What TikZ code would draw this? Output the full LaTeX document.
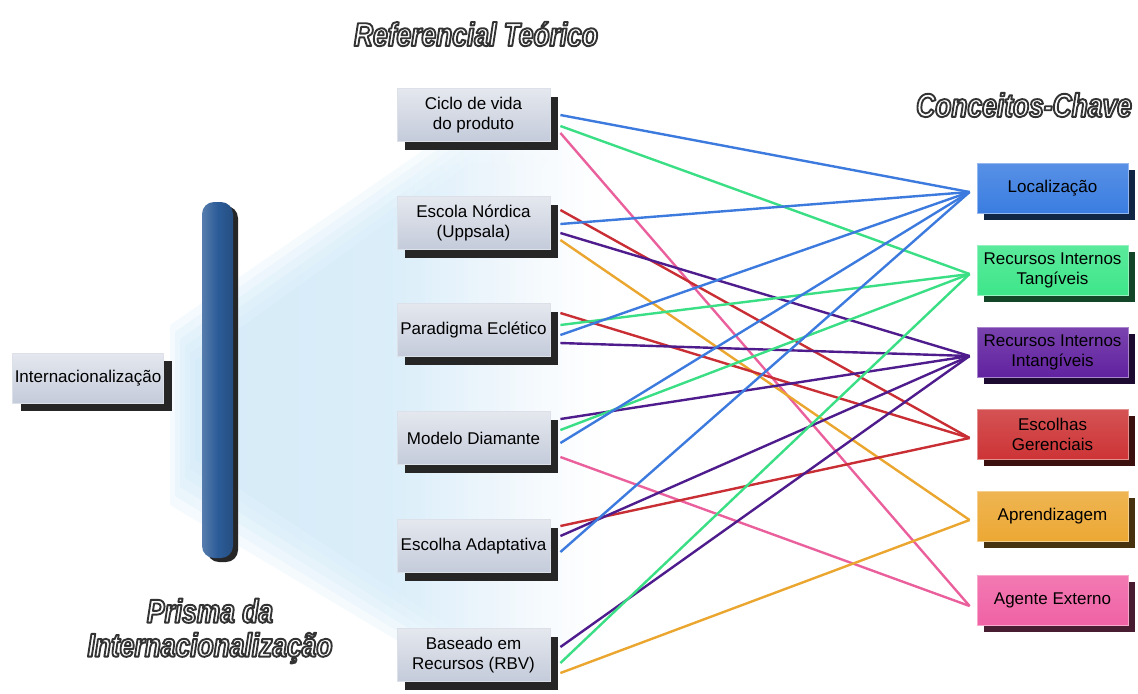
\documentclass[tikz,border=0pt]{standalone}
\usepackage{fontspec}
\setmainfont{Liberation Sans}
\newfontfamily\titlefont[FakeStretch=0.8]{Liberation Sans}
\usepackage{tikz}
\usetikzlibrary{shadows}

\definecolor{refface}{RGB}{196,203,218}
\definecolor{glowblue}{RGB}{200,229,246}
\definecolor{barblue}{RGB}{44,92,152}
\definecolor{locblue}{RGB}{58,125,225}
\definecolor{tanggreen}{RGB}{62,230,138}
\definecolor{intpurple}{RGB}{98,34,160}
\definecolor{escred}{RGB}{205,52,54}
\definecolor{aprorange}{RGB}{236,168,52}
\definecolor{agpink}{RGB}{240,98,165}
\definecolor{lblue}{RGB}{60,122,222}
\definecolor{lgreen}{RGB}{58,222,132}
\definecolor{lpurple}{RGB}{78,28,140}
\definecolor{lred}{RGB}{200,46,52}
\definecolor{lorange}{RGB}{234,166,46}
\definecolor{lpink}{RGB}{234,96,156}

% white letters with a dark rim (fill + stroke render mode)
\newcommand{\titletext}[1]{\textcolor{white}{\special{pdf:literal direct 2 Tr 0.95 w 1 j 0.2 G}#1\special{pdf:literal direct 0 Tr 0.4 w 0 j}}}

\begin{document}
\begin{tikzpicture}[
  x=0.5pt, y=-0.5pt,
  refbox/.style={minimum width=76.5pt, minimum height=26.5pt, inner sep=1pt, align=center,
               font=\fontsize{8.5}{10}\selectfont, top color=refface!45!white, bottom color=refface,
               draw=refface!60!white,
               drop shadow={shadow xshift=4pt, shadow yshift=-4pt, fill=black!85, opacity=1}},
  keybox/.style={minimum width=75.5pt, minimum height=25pt, inner sep=1pt, align=center,
               font=\fontsize{8.5}{10}\selectfont, top color=#1!85!white, bottom color=#1,
               draw=#1!55!white,
               drop shadow={shadow xshift=3.5pt, shadow yshift=-3.5pt, fill=#1!30!black, opacity=1}},
  link/.style={line width=1.2pt},
  glow/.style={left color=glowblue, right color=white, middle color=glowblue!90, opacity=.2},
  titlelabel/.style={font=\titlefont\fontsize{16.5}{17}\selectfont\bfseries\itshape, align=center}
]
\useasboundingbox (0,0) rectangle (1138,693);

% light fan behind the prism
\foreach \k in {0,...,5}
  \shade[glow] (170+5*\k,325+7*\k) -- (470,118+9*\k) -- (615-9*\k,118+9*\k) -- (615-9*\k,672-9*\k)
               -- (450,672-9*\k) -- (170+5*\k,505-9*\k) -- cycle;

% titles
\node[titlelabel] (reftitle) at (476,34) {\titletext{Referencial Teórico}};
\node[titlelabel] (keytitle) at (1024,105) {\titletext{Conceitos-Chave}};
\node[titlelabel] (prismtitle) at (210,631) {\titletext{Prisma da}\\\titletext{Internacionalização}};

% prism
\node[refbox, minimum width=75.5pt, minimum height=25pt] (intl) at (88,378) {Internacionalização};
\node[minimum width=15.5pt, minimum height=178pt, rounded corners=6pt,
      left color=barblue!80!white, right color=barblue!85!black, middle color=barblue,
      drop shadow={shadow xshift=2.5pt, shadow yshift=-2pt, fill=black!85, opacity=1}] (bar) at (217.5,380) {};

% theoretical frameworks
\node[refbox] (ciclo) at (473.5,115) {Ciclo de vida\\do produto};
\node[refbox] (nordica) at (473.5,223) {Escola Nórdica\\(Uppsala)};
\node[refbox] (ecletico) at (473.5,330) {Paradigma Eclético};
\node[refbox] (diamante) at (473.5,438) {Modelo Diamante};
\node[refbox] (adapt) at (473.5,546) {Escolha Adaptativa};
\node[refbox] (rbv) at (473.5,655) {Baseado em\\Recursos (RBV)};

% key concepts
\node[keybox=locblue] (loc) at (1052.5,188) {Localização};
\node[keybox=tanggreen] (tang) at (1052.5,270) {Recursos Internos\\Tangíveis};
\node[keybox=intpurple] (intang) at (1052.5,352) {Recursos Internos\\Intangíveis};
\node[keybox=escred] (gerenc) at (1052.5,434) {Escolhas\\Gerenciais};
\node[keybox=aprorange] (aprend) at (1052.5,516) {Aprendizagem};
\node[keybox=agpink] (agente) at (1052.5,600) {Agente Externo};

% links
\draw[link, lblue] ([xshift=5pt]ciclo.east) -- ([xshift=-3.5pt, yshift=-2pt]loc.west);
\draw[link, lgreen] ([xshift=5pt, yshift=-5.5pt]ciclo.east) -- ([xshift=-3.5pt, yshift=-2pt]tang.west);
\draw[link, lpink] ([xshift=5pt, yshift=-9pt]ciclo.east) -- ([xshift=-3.5pt, yshift=-3pt]agente.west);

\draw[link, lred] ([xshift=5pt, yshift=6.5pt]nordica.east) -- ([xshift=-3.5pt, yshift=-2pt]gerenc.west);
\draw[link, lblue] ([xshift=5pt, yshift=-0.5pt]nordica.east) -- ([xshift=-3.5pt, yshift=-2pt]loc.west);
\draw[link, lpurple] ([xshift=5pt, yshift=-5pt]nordica.east) -- ([xshift=-3.5pt, yshift=-2pt]intang.west);
\draw[link, lorange] ([xshift=5pt, yshift=-8.5pt]nordica.east) -- ([xshift=-3.5pt, yshift=-2pt]aprend.west);

\draw[link, lred] ([xshift=5pt, yshift=8.5pt]ecletico.east) -- ([xshift=-3.5pt, yshift=-2pt]gerenc.west);
\draw[link, lgreen] ([xshift=5pt, yshift=2.5pt]ecletico.east) -- ([xshift=-3.5pt, yshift=-2pt]tang.west);
\draw[link, lblue] ([xshift=5pt, yshift=-2.5pt]ecletico.east) -- ([xshift=-3.5pt, yshift=-2pt]loc.west);
\draw[link, lpurple] ([xshift=5pt, yshift=-6.5pt]ecletico.east) -- ([xshift=-3.5pt, yshift=-2pt]intang.west);

\draw[link, lpurple] ([xshift=5pt, yshift=9.5pt]diamante.east) -- ([xshift=-3.5pt, yshift=-2pt]intang.west);
\draw[link, lgreen] ([xshift=5pt, yshift=4pt]diamante.east) -- ([xshift=-3.5pt, yshift=-2pt]tang.west);
\draw[link, lblue] ([xshift=5pt, yshift=-2.5pt]diamante.east) -- ([xshift=-3.5pt, yshift=-2pt]loc.west);
\draw[link, lpink] ([xshift=5pt, yshift=-9.5pt]diamante.east) -- ([xshift=-3.5pt, yshift=-3pt]agente.west);

\draw[link, lred] ([xshift=5pt, yshift=10pt]adapt.east) -- ([xshift=-3.5pt, yshift=-2pt]gerenc.west);
\draw[link, lpurple] ([xshift=5pt, yshift=5pt]adapt.east) -- ([xshift=-3.5pt, yshift=-2pt]intang.west);
\draw[link, lblue] ([xshift=5pt, yshift=-3pt]adapt.east) -- ([xshift=-3.5pt, yshift=-2pt]loc.west);

\draw[link, lpurple] ([xshift=5pt, yshift=4pt]rbv.east) -- ([xshift=-3.5pt, yshift=-2pt]intang.west);
\draw[link, lgreen] ([xshift=5pt, yshift=-4pt]rbv.east) -- ([xshift=-3.5pt, yshift=-2pt]tang.west);
\draw[link, lorange] ([xshift=5pt, yshift=-9pt]rbv.east) -- ([xshift=-3.5pt, yshift=-2pt]aprend.west);
\end{tikzpicture}
\end{document}
